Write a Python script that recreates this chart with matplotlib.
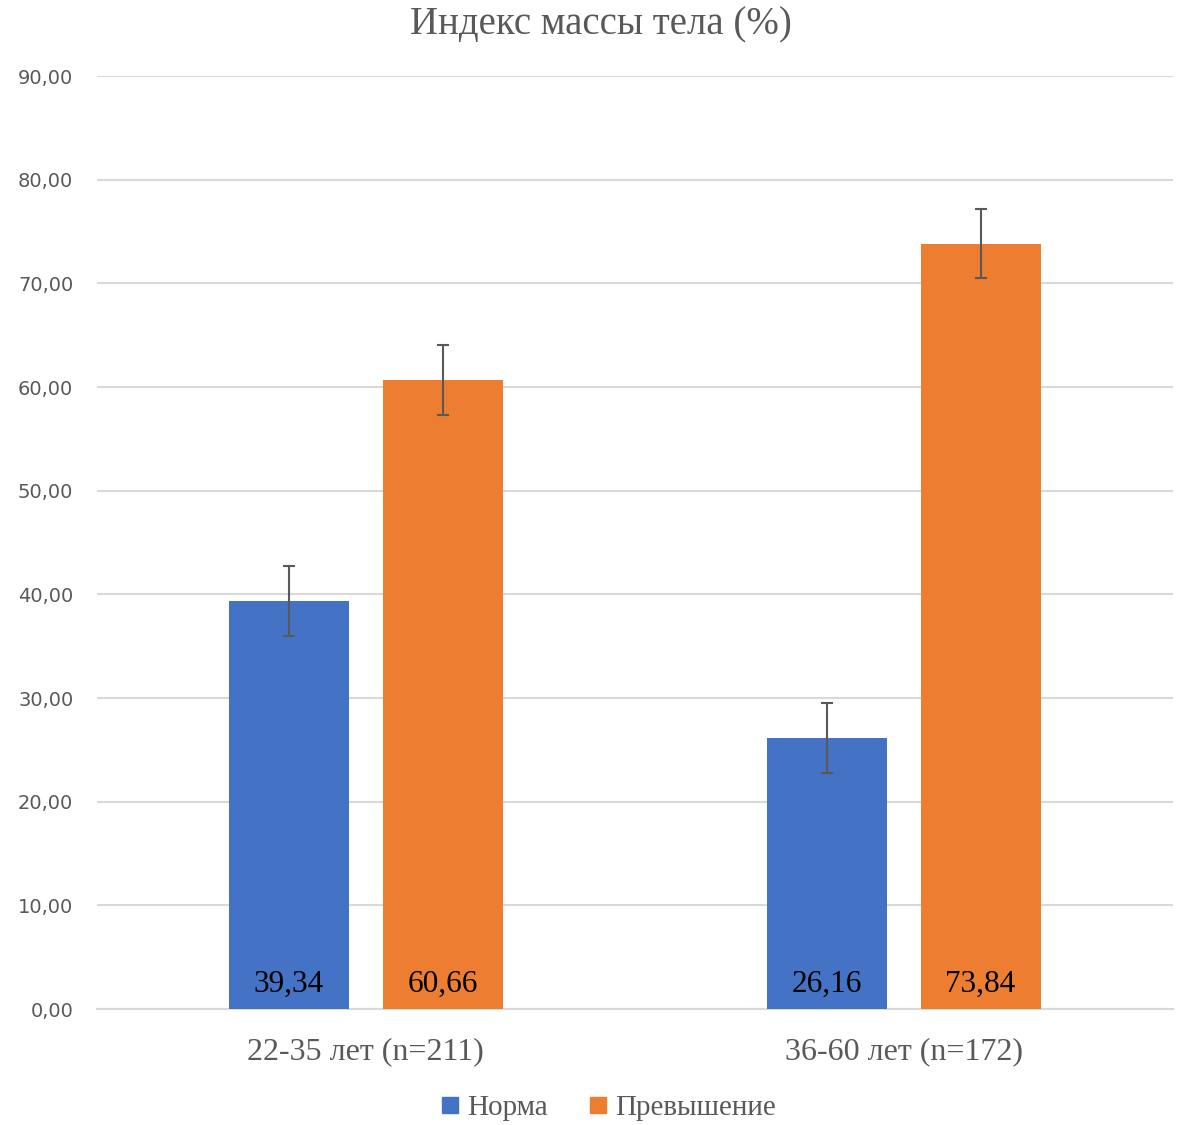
import matplotlib
matplotlib.use('Agg')
import matplotlib.pyplot as plt
import numpy as np
from matplotlib.lines import Line2D

# data
categories = ['22-35 лет (n=211)', '36-60 лет (n=172)']
series_names = ['Норма', 'Превышение']
norma = [39.34, 26.16]
prevyshenie = [60.66, 73.84]
norma_err = [3.36, 3.35]
prevyshenie_err = [3.36, 3.35]
title = 'Индекс массы тела (%)'

BLUE = '#4472C4'
ORANGE = '#ED7D31'
GRAY = '#595959'
GRID = '#D9D9D9'
SERIF = ['Liberation Serif', 'DejaVu Serif']

fig = plt.figure(figsize=(11.88, 11.25), dpi=100)
ax = fig.add_axes([0.0816, 0.1031, 0.9054, 0.8293])

x = np.arange(len(categories))
width = 0.223
offset = 0.143

err_kw = dict(ecolor=GRAY, elinewidth=1.5, capsize=4.3, capthick=1.5)
b1 = ax.bar(x - offset, norma, width, color=BLUE, yerr=norma_err, error_kw=err_kw, zorder=3)
b2 = ax.bar(x + offset, prevyshenie, width, color=ORANGE, yerr=prevyshenie_err, error_kw=err_kw, zorder=3)

# value labels near the bottom of each bar
for bars, vals in [(b1, norma), (b2, prevyshenie)]:
    for rect, v in zip(bars, vals):
        ax.text(rect.get_x() + rect.get_width() / 2, 2.4, f'{v:.2f}'.replace('.', ','),
                ha='center', va='center', fontsize=22.5, family=SERIF, color='black', zorder=4)

ax.set_xlim(-0.5, 1.5)
ax.set_ylim(0, 90)
ax.set_yticks(np.arange(0, 91, 10))
ax.set_yticklabels([f'{t:.2f}'.replace('.', ',') for t in np.arange(0, 91, 10)])
ax.set_xticks(x)
ax.set_xticklabels(categories, family=SERIF, fontsize=23, color=GRAY)
ax.tick_params(axis='y', length=0, pad=17, labelsize=14, labelcolor=GRAY)
ax.tick_params(axis='x', length=0, pad=20)
ax.grid(axis='y', color=GRID, linewidth=1.5, zorder=0)
for s in ['top', 'right', 'left']:
    ax.spines[s].set_visible(False)
ax.spines['bottom'].set_color(GRID)
ax.spines['bottom'].set_linewidth(1.5)

fig.text(0.506, 0.978, title, ha='center', va='center', fontsize=28, family=SERIF, color=GRAY)

handles = [Line2D([], [], marker='s', linestyle='', markersize=11, color=c) for c in [BLUE, ORANGE]]
fig.legend(handles, series_names, loc='center', bbox_to_anchor=(0.51, 0.015), ncol=2,
           frameon=False, prop={'family': SERIF, 'size': 21}, labelcolor=GRAY,
           handletextpad=0.1, columnspacing=1.2, handlelength=1.0)

fig.savefig('out.png', dpi=100)
